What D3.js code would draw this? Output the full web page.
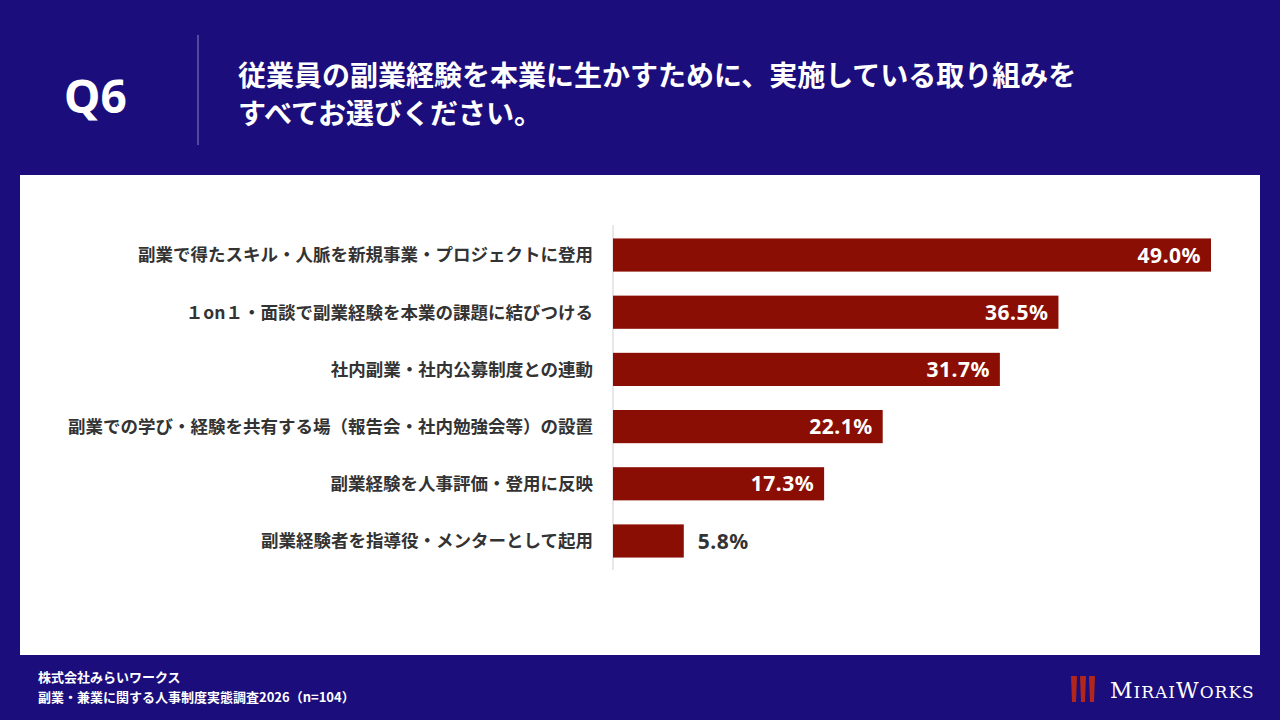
<!DOCTYPE html>
<html><head><meta charset="utf-8">
<script src="https://cdn.jsdelivr.net/npm/d3@7"></script>
<style>body{margin:0;background:#1b0d7c;font-family:"Noto Sans CJK JP","Noto Sans",sans-serif;}</style>
</head><body>
<svg id="c" width="1280" height="720"></svg>
<script>
var categories = [
  "副業で得たスキル・人脈を新規事業・プロジェクトに登用",
  "１on１・面談で副業経験を本業の課題に結びつける",
  "社内副業・社内公募制度との連動",
  "副業での学び・経験を共有する場（報告会・社内勉強会等）の設置",
  "副業経験を人事評価・登用に反映",
  "副業経験者を指導役・メンターとして起用"
];
var values = [49.0, 36.5, 31.7, 22.1, 17.3, 5.8];

var svg = d3.select("#c");
svg.append("rect").attr("width", 1280).attr("height", 720).attr("fill", "#1b0d7c");
svg.append("text").attr("x", 64).attr("y", 113).attr("fill", "#fff")
  .attr("font-size", 46).attr("font-weight", "bold").attr("font-family", "Noto Sans").text("Q6");
svg.append("line").attr("x1", 198).attr("x2", 198).attr("y1", 35).attr("y2", 145)
  .attr("stroke", "#8a86c0").attr("stroke-width", 1);
var title = ["従業員の副業経験を本業に生かすために、実施している取り組みを", "すべてお選びください。"];
svg.selectAll(".t").data(title).enter().append("text")
  .attr("x", 238).attr("y", function (d, i) { return 86 + i * 38; })
  .attr("fill", "#fff").attr("font-size", 28).attr("font-weight", "bold").text(function (d) { return d; });

svg.append("rect").attr("x", 20).attr("y", 175).attr("width", 1240).attr("height", 480).attr("fill", "#fff");

var x = d3.scaleLinear().domain([0, 49]).range([613, 1211]);
var y = d3.scaleBand().domain(categories).range([227, 569]).paddingInner(0.42).paddingOuter(0.2);

svg.append("line").attr("x1", 613).attr("x2", 613).attr("y1", 225).attr("y2", 570).attr("stroke", "#d0d0d0");

var g = svg.append("g");
g.selectAll("rect").data(values).enter().append("rect")
  .attr("x", x(0)).attr("y", function (d, i) { return y(categories[i]); })
  .attr("width", function (d) { return x(d) - x(0); }).attr("height", y.bandwidth())
  .attr("fill", "#8b0e04");
g.selectAll(".lab").data(categories).enter().append("text")
  .attr("x", 593).attr("y", function (d) { return y(d) + y.bandwidth() / 2; })
  .attr("dy", "0.36em").attr("text-anchor", "end").attr("fill", "#333")
  .attr("font-size", 17.5).attr("font-weight", "bold").text(function (d) { return d; });
g.selectAll(".val").data(values).enter().append("text")
  .attr("x", function (d) { return d > 10 ? x(d) - 10 : x(d) + 14; })
  .attr("y", function (d, i) { return y(categories[i]) + y.bandwidth() / 2; })
  .attr("dy", "0.36em").attr("text-anchor", function (d) { return d > 10 ? "end" : "start"; })
  .attr("fill", function (d) { return d > 10 ? "#fff" : "#333"; })
  .attr("font-size", 21).attr("font-weight", "bold").attr("font-family", "Noto Sans").attr("letter-spacing", 0.5)
  .text(function (d) { return d.toFixed(1) + "%"; });

var foot = ["株式会社みらいワークス", "副業・兼業に関する人事制度実態調査2026（n=104）"];
svg.selectAll(".f").data(foot).enter().append("text")
  .attr("x", 38).attr("y", function (d, i) { return 682 + i * 20; })
  .attr("fill", "#fff").attr("font-size", 13).attr("font-weight", "bold").text(function (d) { return d; });

var logo = svg.append("g");
[0, 1, 2].forEach(function (i) {
  logo.append("path").attr("d", "M" + (1071 + i * 9) + ",676 l6,0 l-1,26 l-4,0 z").attr("fill", "#b2261b");
});
logo.append("text").attr("x", 1110).attr("y", 698).attr("fill", "#fff")
  .attr("font-family", "DejaVu Serif, Liberation Serif, serif").attr("font-size", 22).attr("letter-spacing", 1)
  .html('M<tspan font-size="17">IRAI</tspan>W<tspan font-size="17">ORKS</tspan>');
</script>
</body></html>
